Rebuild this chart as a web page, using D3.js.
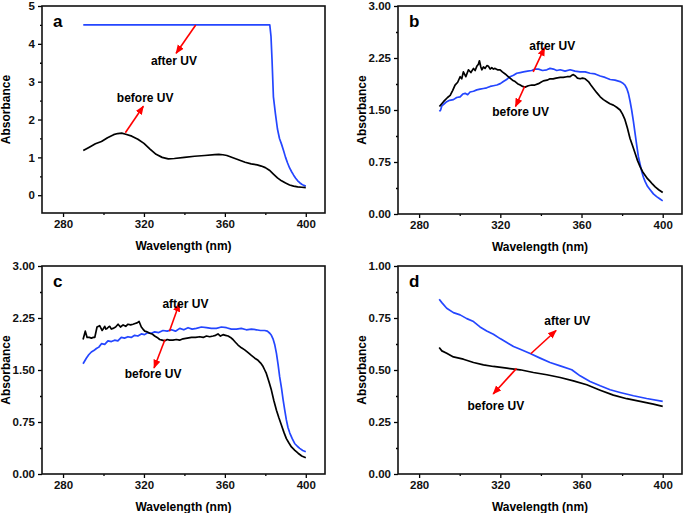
<!DOCTYPE html>
<html><head><meta charset="utf-8">
<script src="https://cdn.jsdelivr.net/npm/d3@7"></script>
<style>body{margin:0;background:#fff}svg{display:block}text{font-family:Arial,"Liberation Sans",sans-serif;font-weight:bold}</style>
</head><body>
<script>
// ---------- DATA ----------
const aBeforeWl = [290,293,296,299,302,305,307,309,311,314,317,320,323,326,329,332,335,340,345,350,355,357,359,361,364,367,370,373,376,378,380,382,384,386,388,390,392,394,396,398,400];
const aBefore   = [1.18,1.27,1.36,1.42,1.52,1.60,1.63,1.64,1.61,1.56,1.48,1.37,1.22,1.08,1.00,0.96,0.97,1.00,1.03,1.05,1.07,1.08,1.07,1.05,0.99,0.93,0.87,0.83,0.80,0.77,0.73,0.66,0.56,0.46,0.38,0.32,0.27,0.24,0.22,0.21,0.20];
const aAfterWl  = [290,330,360,382.2,382.8,383.3,384,385,386,387,388,389,390,391,392,393,394,395,396,397,398,399,400];
const aAfter    = [4.5,4.5,4.5,4.5,4.2,3.6,2.6,2.15,1.75,1.5,1.35,1.18,1.0,0.85,0.72,0.62,0.53,0.45,0.38,0.33,0.29,0.26,0.24];

const bBeforeWl = [290,292,294,295.3,296.5,297.7,299,300.2,301,301.8,303,304.3,305.5,306.8,307.6,308.4,309.2,309.7,310.4,310.9,311.7,312.5,313.4,314.2,315,315.8,316.6,317.4,318.6,319.9,321,322.4,323.6,324.8,326,327.3,328.5,329.8,331,332.2,333.8,335.5,337,338.8,340,341.2,343,344.5,346,347.5,349.5,351,352.8,354.4,355.2,356,357,358,359.3,360.5,361.8,363.4,364.6,365.9,367.5,369.2,370.8,372.4,374,375.7,377.3,379,380.2,381.4,382.6,383.9,385.2,386.4,387.6,388.9,390.1,391.3,392.5,393.8,395,396.3,398,400];
const bBefore   = [1.55,1.62,1.68,1.71,1.78,1.86,1.90,1.98,1.95,2.05,1.98,2.08,2.04,2.10,2.07,2.13,2.16,2.21,2.12,2.08,2.12,2.10,2.14,2.13,2.09,2.11,2.09,2.10,2.08,2.08,2.05,2.02,1.99,1.96,1.93,1.91,1.88,1.86,1.84,1.83,1.85,1.86,1.86,1.88,1.90,1.92,1.93,1.95,1.95,1.96,1.97,1.97,1.98,1.98,2.00,2.01,1.99,1.96,1.95,1.96,1.95,1.91,1.86,1.81,1.75,1.69,1.65,1.62,1.59,1.57,1.54,1.50,1.44,1.36,1.24,1.09,0.98,0.875,0.77,0.68,0.61,0.56,0.51,0.47,0.43,0.39,0.35,0.31];
const bAfterWl  = [290,290.6,291.2,292.4,293.6,295,296.9,298.5,300.2,301.5,302.7,303.9,305.1,306.8,308.4,310,311.7,313.3,315,316.6,318.3,320,321.5,323.1,324.8,326.5,328.1,329.8,331.4,333.4,335.5,337.1,338.8,340.8,342.9,344.5,346.2,347.8,349.5,351.9,354.4,356.8,359.3,361.8,364.2,366.7,369.2,371.6,374.1,376.5,379,380.2,381.4,382.3,383.1,383.9,384.7,385.6,386.4,387.2,388,388.9,389.7,390.5,391.3,392.5,393.8,395.4,397,398.5,400];
const bAfter    = [1.48,1.50,1.56,1.59,1.62,1.64,1.65,1.68,1.69,1.73,1.74,1.72,1.76,1.77,1.79,1.80,1.81,1.82,1.84,1.85,1.86,1.88,1.91,1.94,1.98,2.00,2.03,2.04,2.05,2.06,2.07,2.09,2.09,2.07,2.08,2.10,2.09,2.07,2.08,2.06,2.08,2.06,2.05,2.05,2.03,2.02,1.99,1.97,1.94,1.93,1.91,1.89,1.86,1.81,1.74,1.63,1.50,1.33,1.16,0.99,0.83,0.71,0.61,0.53,0.47,0.40,0.35,0.29,0.25,0.22,0.19];

const cBeforeWl = [289.9,291,291.9,293,294,295,295.7,296.8,298.1,299.3,300,300.6,301.2,301.8,302.5,303.1,303.9,304.7,306,307.2,308.4,309.7,311,312.1,313.4,314.6,315.6,316.6,317.6,318.7,319.5,320.4,321.6,322.8,324,325.3,326.5,327.8,329,330.3,331.5,332.7,334.3,336,337.6,339.3,341.4,343.5,345.5,347.6,349.3,350.9,352.5,354.2,355.4,356.6,357.8,359.1,360.3,361.6,362.8,364,365.2,366.5,368.2,369.8,371.5,373.1,374.8,376.4,377.7,378.9,379.7,380.5,381.8,383,384.2,385.5,386.7,387.9,389.2,390.4,391.6,392.9,394.6,396.2,398,400];
const cBefore   = [1.94,2.06,1.97,1.97,1.96,1.97,1.97,2.12,2.14,2.07,2.10,2.13,2.09,2.10,2.12,2.13,2.09,2.10,2.12,2.16,2.12,2.15,2.13,2.16,2.15,2.16,2.17,2.18,2.20,2.12,2.09,2.06,2.05,2.03,2.02,1.99,1.97,1.94,1.93,1.92,1.94,1.93,1.93,1.94,1.93,1.95,1.96,1.97,1.97,1.98,1.97,1.99,1.98,1.99,2.00,2.02,1.99,2.01,2.00,1.99,1.97,1.94,1.90,1.86,1.82,1.79,1.75,1.71,1.67,1.64,1.60,1.55,1.50,1.45,1.33,1.21,1.06,0.92,0.81,0.71,0.60,0.51,0.45,0.39,0.34,0.30,0.26,0.235];
const cAfterWl  = [289.9,290.7,291.5,292.7,294,295.2,296.5,297.7,299,300.6,302.2,303.9,305.5,307.1,308.8,310.4,312.1,313.7,315.4,317,318.7,320.3,322,323.6,325.3,327.3,329.4,331.5,333.6,335.6,337.7,339.7,341.8,343.8,345.9,348.4,350.9,353.3,355.8,358.3,360.8,363.2,365.7,368.1,370.6,373.1,375.6,377.6,379.7,381,382.2,383,383.8,384.7,385.5,386.3,387.1,388,388.8,389.6,390.4,391.2,392.1,393.3,394.5,395.8,397,398.5,400];
const cAfter    = [1.59,1.63,1.67,1.72,1.76,1.78,1.81,1.83,1.88,1.87,1.92,1.91,1.93,1.92,1.97,1.96,1.98,1.97,2.00,1.99,2.02,2.01,2.04,2.03,2.05,2.04,2.07,2.06,2.08,2.06,2.10,2.08,2.11,2.09,2.10,2.12,2.11,2.10,2.10,2.12,2.11,2.09,2.09,2.10,2.08,2.09,2.08,2.07,2.07,2.06,2.03,2.00,1.95,1.86,1.74,1.58,1.40,1.24,1.07,0.92,0.78,0.67,0.59,0.51,0.44,0.40,0.37,0.34,0.32];

const dBeforeWl = [289.9,291.2,293.6,296.9,301.8,306.8,311.7,316.6,323.2,329.8,336.3,342.9,349.5,356,362.6,369.2,375.7,382.3,388.9,395.4,400];
const dBefore   = [0.608,0.592,0.581,0.563,0.552,0.536,0.525,0.517,0.509,0.501,0.488,0.477,0.464,0.448,0.429,0.403,0.379,0.362,0.349,0.336,0.325];
const dAfterWl  = [289.9,291.2,293.6,296.9,300.2,303.5,306.8,310,313.3,316.6,319.9,323.2,326.5,329.8,334.7,339.6,344.5,349.5,355.2,359.3,364.2,369.2,374.1,379,385.6,392.1,400];
const dAfter    = [0.84,0.824,0.797,0.776,0.765,0.747,0.733,0.707,0.688,0.672,0.651,0.632,0.613,0.6,0.579,0.557,0.536,0.52,0.501,0.472,0.445,0.424,0.405,0.392,0.376,0.363,0.349];

const xTicks = [280,320,360,400];
const yTicksA = [0,1,2,3,4,5];
const yTicksBC = [0.00,0.75,1.50,2.25,3.00];
const yTicksD = [0.00,0.25,0.50,0.75,1.00];

// ---------- DRAW ----------
const W=685,H=513;
const svg=d3.select("body").append("svg").attr("width",W).attr("height",H);
const defs=svg.append("defs");
defs.append("marker").attr("id","ah").attr("viewBox","0 0 10 10").attr("refX",9).attr("refY",5)
  .attr("markerWidth",9).attr("markerHeight",9).attr("markerUnits","userSpaceOnUse").attr("orient","auto")
  .append("path").attr("d","M0,1 L10,5 L0,9 Z").attr("fill","#ff0000");

const BLUE="#2446ff";

function panel(o){
  const g=svg.append("g");
  const x=d3.scaleLinear().domain([269.6,409.5]).range([o.l,o.r]);
  const y=d3.scaleLinear().domain(o.yDom).range([o.b,o.t]);
  const xa=d3.axisBottom(x).tickValues(xTicks).tickSize(4).tickPadding(3).tickFormat(d3.format("d"));
  g.append("g").attr("transform",`translate(0,${o.b})`).call(xa);
  const xm=d3.axisBottom(x).tickValues([300,340,380]).tickSize(2).tickFormat("");
  g.append("g").attr("transform",`translate(0,${o.b})`).call(xm);
  const ya=d3.axisLeft(y).tickValues(o.yTicks).tickSize(4).tickPadding(3).tickFormat(o.fmt);
  g.append("g").attr("transform",`translate(${o.l},0)`).call(ya);
  const ym=d3.axisLeft(y).tickValues(o.yMinor).tickSize(2).tickFormat("");
  g.append("g").attr("transform",`translate(${o.l},0)`).call(ym);
  g.selectAll(".domain").remove();
  g.selectAll(".tick line").attr("stroke","#000").attr("stroke-width",1.3);
  g.selectAll(".tick text").attr("font-size",11.5).attr("font-weight","bold").attr("fill","#111")
     .attr("font-family",'Arial,"Liberation Sans",sans-serif');
  g.append("rect").attr("x",o.l).attr("y",o.t).attr("width",o.r-o.l).attr("height",o.b-o.t)
    .attr("fill","none").attr("stroke","#111").attr("stroke-width",1.6);
  const line=d3.line().x(d=>x(d[0])).y(d=>y(d[1]));
  g.append("path").datum(d3.zip(o.afterWl,o.after)).attr("d",line).attr("fill","none")
    .attr("stroke",BLUE).attr("stroke-width",1.7).attr("stroke-linejoin","round");
  g.append("path").datum(d3.zip(o.beforeWl,o.before)).attr("d",line).attr("fill","none")
    .attr("stroke","#000").attr("stroke-width",1.7).attr("stroke-linejoin","round");
  g.append("text").attr("x",o.l+11).attr("y",o.t+21).attr("font-size",17).text(o.letter);
  g.append("text").attr("transform",`translate(${o.l-32},${(o.t+o.b)/2}) rotate(-90)`)
    .attr("text-anchor","middle").attr("font-size",12).text("Absorbance");
  g.append("text").attr("x",(o.l+o.r)/2).attr("y",o.b+37).attr("text-anchor","middle")
    .attr("font-size",12).text("Wavelength (nm)");
  o.arrows.forEach(a=>{
    g.append("line").attr("x1",x(a[0])).attr("y1",y(a[1])).attr("x2",x(a[2])).attr("y2",y(a[3]))
      .attr("stroke","#ff0000").attr("stroke-width",1.6).attr("marker-end","url(#ah)");
  });
  o.notes.forEach(n=>{
    g.append("text").attr("x",x(n[0])).attr("y",y(n[1])).attr("text-anchor","middle")
      .attr("font-size",12).text(n[2]);
  });
}

panel({letter:"a",l:42,r:325,t:6,b:213,yDom:[-0.47,5],yTicks:yTicksA,yMinor:[0.5,1.5,2.5,3.5,4.5],
  fmt:d3.format("d"),beforeWl:aBeforeWl,before:aBefore,afterWl:aAfterWl,after:aAfter,
  arrows:[[345.6,4.5,335.9,3.75],[310.8,1.65,319.7,2.35]],
  notes:[[334.8,3.45,"after UV"],[320.6,2.47,"before UV"]]});
panel({letter:"b",l:398,r:682,t:6,b:214,yDom:[0,3],yTicks:yTicksBC,yMinor:[0.375,1.125,1.875,2.625],
  fmt:d3.format(".2f"),beforeWl:bBeforeWl,before:bBefore,afterWl:bAfterWl,after:bAfter,
  arrows:[[336.2,2.05,341.8,2.4],[332.0,1.84,327.5,1.55]],
  notes:[[345.6,2.36,"after UV"],[330.0,1.41,"before UV"]]});
panel({letter:"c",l:42,r:325,t:266,b:474,yDom:[0,3],yTicks:yTicksBC,yMinor:[0.375,1.125,1.875,2.625],
  fmt:d3.format(".2f"),beforeWl:cBeforeWl,before:cBefore,afterWl:cAfterWl,after:cAfter,
  arrows:[[332.6,2.06,337.5,2.46],[330.4,1.94,325,1.53]],
  notes:[[340.5,2.39,"after UV"],[324.5,1.39,"before UV"]]});
panel({letter:"d",l:398,r:682,t:266,b:474,yDom:[0,1],yTicks:yTicksD,yMinor:[0.125,0.375,0.625,0.875],
  fmt:d3.format(".2f"),beforeWl:dBeforeWl,before:dBefore,afterWl:dAfterWl,after:dAfter,
  arrows:[[335,0.578,347.5,0.69],[328,0.508,316.5,0.385]],
  notes:[[353,0.715,"after UV"],[317.8,0.31,"before UV"]]});
</script>
</body></html>
